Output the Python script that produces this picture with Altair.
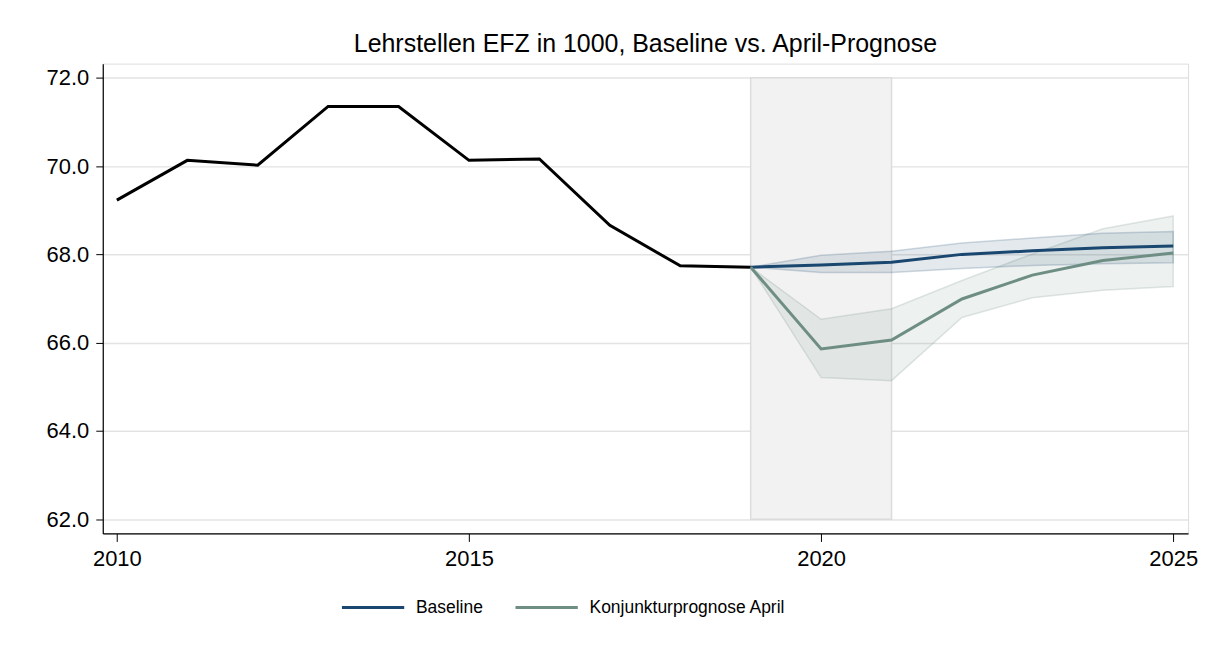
import altair as alt
import pandas as pd

hist_years = list(range(2010, 2020))
hist_values = [69.23, 70.13, 70.02, 71.35, 71.35, 70.13, 70.16, 68.66, 67.74, 67.71]

fc_years = list(range(2019, 2026))
base_values = [67.71, 67.76, 67.82, 68.00, 68.08, 68.15, 68.19]
base_lower = [67.71, 67.59, 67.59, 67.68, 67.75, 67.79, 67.81]
base_upper = [67.71, 67.98, 68.07, 68.26, 68.37, 68.48, 68.52]
april_values = [67.71, 65.86, 66.06, 66.99, 67.53, 67.86, 68.03]
april_lower = [67.71, 65.21, 65.14, 66.57, 67.02, 67.19, 67.27]
april_upper = [67.71, 66.53, 66.77, 67.41, 68.01, 68.58, 68.87]

series_names = ["Baseline", "Konjunkturprognose April"]
series_colors = ["#1a476f", "#6e8e84"]
shade_start, shade_end = 2019, 2021
y_ticks = [62, 64, 66, 68, 70, 72]
x_ticks = [2010, 2015, 2020, 2025]

FONT = "Liberation Sans"

hist = pd.DataFrame({"year": hist_years, "value": hist_values})
fc = pd.DataFrame({
    "year": fc_years * 2,
    "value": base_values + april_values,
    "series": [series_names[0]] * 7 + [series_names[1]] * 7,
})
band_base = pd.DataFrame({"year": fc_years, "lower": base_lower, "upper": base_upper})
band_april = pd.DataFrame({"year": fc_years, "lower": april_lower, "upper": april_upper})
shade = pd.DataFrame({"x": [shade_start], "x2": [shade_end], "y": [62], "y2": [72]})

xs = alt.Scale(domain=[2009.8, 2025.21], nice=False, zero=False)
ys = alt.Scale(domain=[61.68, 72.32], nice=False, zero=False)
cs = alt.Scale(domain=series_names, range=series_colors)

xaxis = alt.Axis(values=x_ticks, format="d", title=None, grid=False,
                 domainColor="#000", domainWidth=1.2, tickColor="#000", tickSize=8,
                 labelFont=FONT, labelFontSize=22, labelColor="#000", labelPadding=7)
yaxis = alt.Axis(values=y_ticks, format=".1f", title=None, grid=True,
                 gridColor="#e3e3e3", gridWidth=1.5,
                 domainColor="#000", domainWidth=1.2, tickColor="#000", tickSize=7,
                 labelFont=FONT, labelFontSize=22, labelColor="#000", labelPadding=7)

rect = alt.Chart(shade).mark_rect(fill="#f2f2f2", stroke="#dcdcdc", strokeWidth=1.5).encode(
    x=alt.X("x:Q", scale=xs, axis=xaxis), x2="x2:Q",
    y=alt.Y("y:Q", scale=ys, axis=yaxis), y2="y2:Q",
)


def band(df, color):
    return alt.Chart(df).mark_area(fill=color, fillOpacity=0.12, stroke=color,
                                   strokeOpacity=0.2, strokeWidth=1.5).encode(
        x=alt.X("year:Q", scale=xs),
        y=alt.Y("lower:Q", scale=ys),
        y2="upper:Q",
    )


band_a = band(band_april, series_colors[1])
band_b = band(band_base, series_colors[0])

hist_line = alt.Chart(hist).mark_line(color="#000", strokeWidth=3).encode(
    x=alt.X("year:Q", scale=xs), y=alt.Y("value:Q", scale=ys),
)

fc_lines = alt.Chart(fc).mark_line(strokeWidth=3).encode(
    x=alt.X("year:Q", scale=xs), y=alt.Y("value:Q", scale=ys),
    color=alt.Color("series:N", scale=cs, sort=series_names,
                    legend=alt.Legend(title=None, orient="none", direction="horizontal",
                                      legendX=238, legendY=512,
                                      symbolType="stroke", symbolSize=3900, symbolStrokeWidth=3,
                                      labelFont=FONT, labelFontSize=17.5, labelColor="#000",
                                      labelLimit=400,
                                      labelOffset=10, columnPadding=25)),
)

chart = alt.layer(rect, band_a, band_b, hist_line, fc_lines).properties(
    width=1088, height=471,
    autosize=alt.AutoSizeParams(type="none"),
    padding={"left": 95, "top": 55, "right": 13, "bottom": 90},
    title=alt.TitleParams("Lehrstellen EFZ in 1000, Baseline vs. April-Prognose",
                          font=FONT, fontSize=25, fontWeight="normal", color="#000",
                          anchor="middle", offset=7),
).configure_view(stroke=None).configure(background="white")

chart.save("out.html", embed_options={"renderer": "svg", "actions": False})
